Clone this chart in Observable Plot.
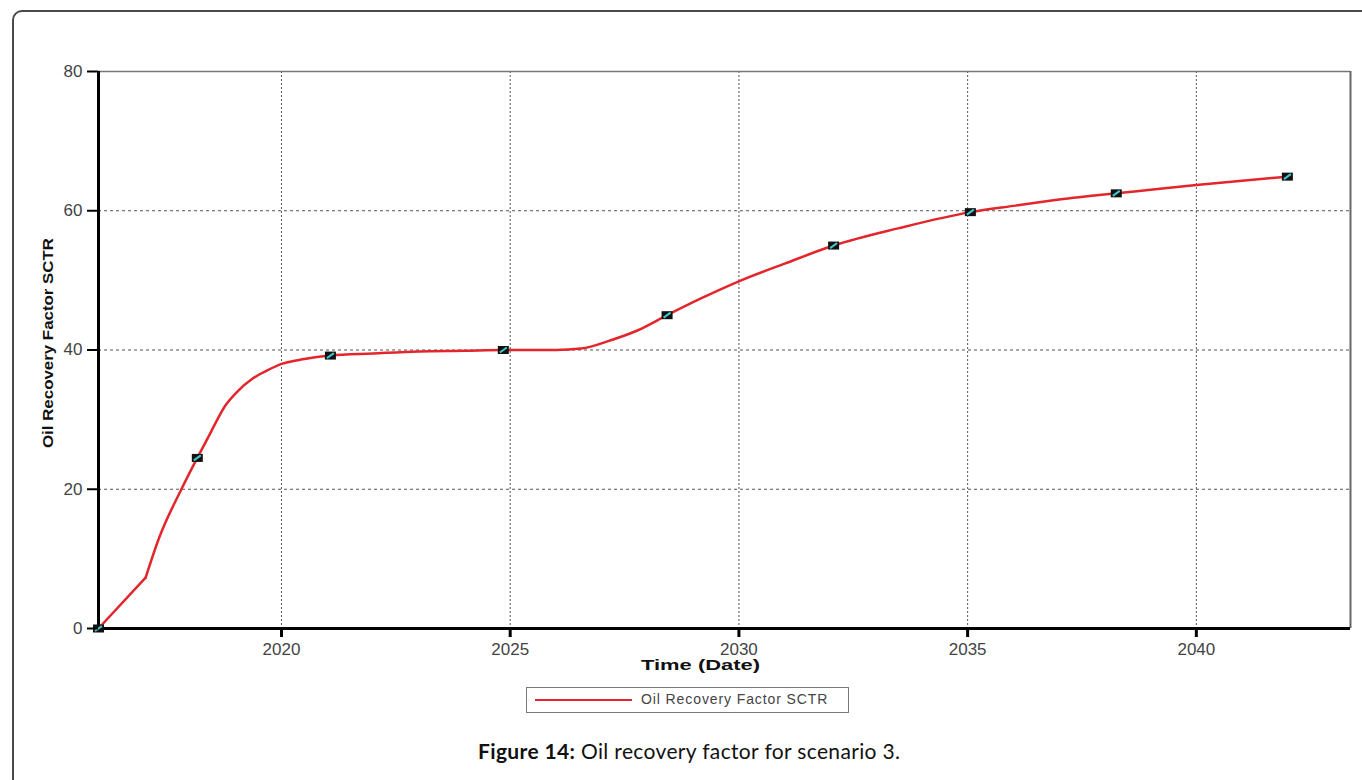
<!DOCTYPE html>
<html><head><meta charset="utf-8">
<script src="https://cdn.jsdelivr.net/npm/d3@7"></script>
<script src="https://cdn.jsdelivr.net/npm/@observablehq/plot@0.6"></script>
<style>
body{margin:0;background:#fff;}
#wrap{position:relative;width:1362px;height:780px;overflow:hidden;font-family:"Liberation Sans",Arial,sans-serif;}
#frame{position:absolute;left:12px;top:10px;width:1420px;height:840px;border:2px solid #4a4a4a;border-radius:10px;box-sizing:border-box;}
#chart{position:absolute;left:0;top:0;}
#legend{position:absolute;left:526px;top:687px;width:323px;height:26px;border:1.5px solid #7a7a7a;box-sizing:border-box;background:#fff;}
#legend .sw{position:absolute;left:8px;top:11px;width:97px;height:0;border-top:2.5px solid #e3262b;}
#legend .lb{position:absolute;left:114px;top:3px;font-size:14px;letter-spacing:0.9px;color:#444;white-space:nowrap;}
#caption{position:absolute;left:478px;top:738px;font-family:Lato,"Open Sans",sans-serif;font-size:21px;letter-spacing:0.35px;color:#111;white-space:nowrap;}
</style>
</head><body>
<div id="wrap">
  <div id="frame"></div>
  <div id="chart"></div>
  <div id="legend"><div class="sw"></div><div class="lb">Oil Recovery Factor SCTR</div></div>
  <div id="caption"><b>Figure 14:</b> Oil recovery factor for scenario 3.</div>
</div>
<script>
const curveYears  = [2016.0, 2017.03, 2017.33, 2017.82, 2018.16, 2018.44, 2018.77, 2019.03, 2019.37, 2019.7, 2020.0, 2020.5, 2021.07, 2022.0, 2023.0, 2024.0, 2024.85, 2025.5, 2026.0, 2026.55, 2027.2, 2027.78, 2028.43, 2029.17, 2030.05, 2031.0, 2032.07, 2033.5, 2035.06, 2036.0, 2037.0, 2038.25, 2039.0, 2040.0, 2041.0, 2041.99];
const curveValues = [0, 7.3, 13.1, 20.1, 24.5, 28.0, 32.0, 34.0, 35.9, 37.1, 38.0, 38.7, 39.2, 39.5, 39.8, 39.9, 40.0, 40.0, 40.0, 40.2, 41.4, 42.8, 45.0, 47.4, 50.0, 52.4, 55.0, 57.5, 59.8, 60.7, 61.6, 62.5, 63.0, 63.7, 64.3, 64.9];
const markerYears  = [2016.0, 2018.16, 2021.07, 2024.85, 2028.43, 2032.07, 2035.06, 2038.25, 2041.99];
const markerValues = [0, 24.5, 39.2, 40.0, 45.0, 55.0, 59.8, 62.5, 64.9];
const xTicks = [2020, 2025, 2030, 2035, 2040];
const yTicks = [0, 20, 40, 60, 80];
const xDomain = [2016.0, 2043.37];
const yDomain = [0, 80];
const yLabel = "Oil Recovery Factor SCTR";
const xLabel = "Time (Date)";

const curve = curveYears.map((t, i) => ({t, v: curveValues[i]}));
const markers = markerYears.map((t, i) => ({t, v: markerValues[i]}));
// first stretch (start to the kink) is straight, the rest is smooth
const straightPart = curve.slice(0, 2);
const smoothPart = curve.slice(1);

const rectSym = {draw(ctx) { ctx.moveTo(-5.5, -4); ctx.lineTo(5.5, -4); ctx.lineTo(5.5, 4); ctx.lineTo(-5.5, 4); ctx.closePath(); }};
const slashSym = {draw(ctx) { ctx.moveTo(-3.5, 2.5); ctx.lineTo(3.5, -2.5); }};

const chart = Plot.plot({
  width: 1362, height: 680,
  marginLeft: 98, marginRight: 12, marginTop: 71, marginBottom: 52,
  style: {fontFamily: '"Liberation Sans", Arial, sans-serif', background: "transparent", color: "#444"},
  x: {domain: xDomain, label: null},
  y: {domain: yDomain, label: null},
  marks: [
    Plot.gridY(yTicks.filter(d => d > yDomain[0] && d < yDomain[1]), {stroke: "#555", strokeOpacity: 1, strokeWidth: 1, strokeDasharray: "3,3"}),
    Plot.gridX(xTicks, {stroke: "#555", strokeOpacity: 1, strokeWidth: 1, strokeDasharray: "2,2"}),
    Plot.ruleY([yDomain[1]], {stroke: "#777", strokeWidth: 1.5}),
    Plot.ruleX([xDomain[1]], {stroke: "#666", strokeWidth: 2}),
    Plot.line(straightPart, {x: "t", y: "v", stroke: "#e3262b", strokeWidth: 2.5, strokeLinecap: "round"}),
    Plot.line(smoothPart, {x: "t", y: "v", stroke: "#e3262b", strokeWidth: 2.5, curve: "monotone-x", strokeLinecap: "round"}),
    Plot.ruleX([xDomain[0]], {stroke: "#000", strokeWidth: 3}),
    Plot.ruleY([yDomain[0]], {stroke: "#000", strokeWidth: 3}),
    Plot.dot(markers, {x: "t", y: "v", symbol: rectSym, fill: "#111", stroke: "none", r: 4}),
    Plot.dot(markers, {x: "t", y: "v", symbol: slashSym, fill: "none", stroke: "#43c6cf", strokeWidth: 2, r: 4}),
    Plot.axisY({ticks: yTicks, tickSize: 11, tickPadding: 5, stroke: "#000", strokeWidth: 2, fill: "#444", fontSize: 17, label: null}),
    Plot.axisX({ticks: xTicks, tickSize: 9, tickPadding: 5, stroke: "#000", strokeWidth: 3, fill: "#444", fontSize: 17, tickFormat: d => String(d), label: null}),
    Plot.text([xLabel], {frameAnchor: "bottom", dx: -24, dy: 41, lineAnchor: "bottom", fontSize: 15, fontWeight: "bold", fill: "#111"}),
    Plot.text([yLabel], {frameAnchor: "left", textAnchor: "middle", rotate: -90, dx: -50, dy: -7, fontSize: 15, fontWeight: "bold", fill: "#111"})
  ]
});
document.getElementById("chart").appendChild(chart);
d3.select(chart).selectAll("text").filter(function() { return this.textContent === xLabel; })
  .attr("textLength", 119).attr("lengthAdjust", "spacingAndGlyphs");
d3.select(chart).selectAll("text").filter(function() { return this.textContent === yLabel; })
  .attr("textLength", 210).attr("lengthAdjust", "spacingAndGlyphs");
</script>
</body></html>
